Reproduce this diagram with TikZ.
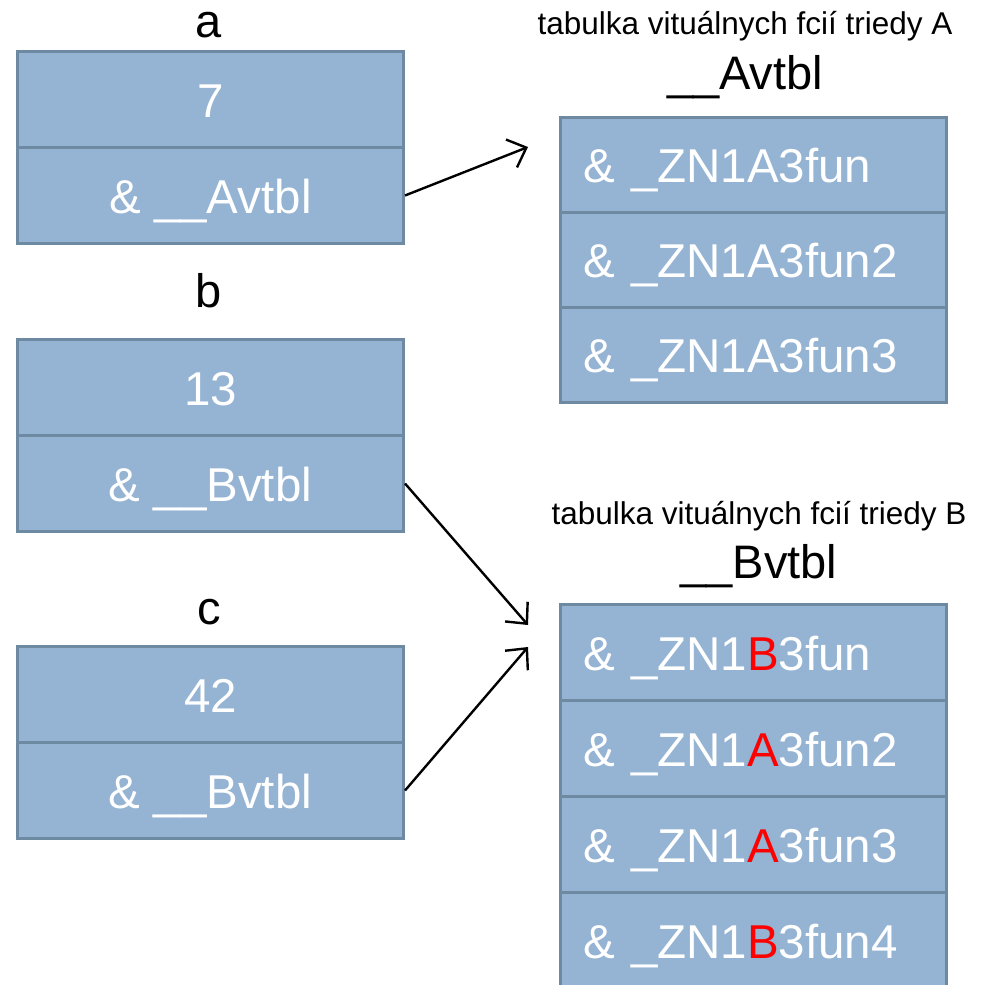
\documentclass[tikz,border=0pt]{standalone}
\usepackage{fontspec}
\setmainfont{Liberation Sans}
\usetikzlibrary{arrows.meta}
\definecolor{cellfill}{HTML}{95B3D3}
\definecolor{cellborder}{HTML}{6E8AA2}
\begin{document}
\begin{tikzpicture}[x=1pt,y=-1pt,
  cell/.style={draw=cellborder, fill=cellfill, line width=3pt, anchor=north west,
    minimum width=386pt, minimum height=96pt, inner sep=0pt,
    text=white, font=\fontsize{47.5}{52}\selectfont, text height=35pt, text depth=0pt},
  lcell/.style={cell, align=left, text width=340pt, inner xsep=23pt},
  lbl/.style={font=\fontsize{47}{52}\selectfont, anchor=base},
  captxt/.style={font=\fontsize{31.5}{34}\selectfont, anchor=base},
  hdr/.style={font=\fontsize{47}{52}\selectfont, anchor=base},
  ptr/.style={line width=2.4pt, -{Straight Barb[length=16pt,width=30pt,line width=2.4pt]}}]
\useasboundingbox (0,0) rectangle (982,985);
\begin{scope}
\clip (0,0) rectangle (982,985);
% left objects
\node[lbl] (la) at (209,37) {a};
\node[cell] (a1) at (16,50) {7};
\node[cell] (a2) at (16,146) {\& \_\_Avtbl};
\node[lbl] (lb) at (209,307) {b};
\node[cell] (b1) at (16,338) {13};
\node[cell] (b2) at (16,434) {\& \_\_Bvtbl};
\node[lbl] (lc) at (209,624) {c};
\node[cell] (c1) at (16,645) {42};
\node[cell] (c2) at (16,741) {\& \_\_Bvtbl};
% table A
\node[captxt] (capA) at (745,34) {tabulka vituálnych fcií triedy A};
\node[hdr] (hA) at (745,89) {\_\_Avtbl};
\node[lcell, minimum height=95pt] (ta1) at (559,116) {\& \_ZN1A3fun};
\node[lcell, minimum height=95pt] (ta2) at (559,211) {\& \_ZN1A3fun2};
\node[lcell, minimum height=95pt] (ta3) at (559,306) {\& \_ZN1A3fun3};
% table B
\node[captxt] (capB) at (759,524) {tabulka vituálnych fcií triedy B};
\node[hdr] (hB) at (759,578) {\_\_Bvtbl};
\node[lcell] (tb1) at (559,603) {\& \_ZN1\textcolor{red}{B}3fun};
\node[lcell] (tb2) at (559,699) {\& \_ZN1\textcolor{red}{A}3fun2};
\node[lcell] (tb3) at (559,795) {\& \_ZN1\textcolor{red}{A}3fun3};
\node[lcell] (tb4) at (559,891) {\& \_ZN1\textcolor{red}{B}3fun4};
\end{scope}
% arrow ends
\coordinate (pA) at (528,147);
\coordinate (pB1) at (528,625);
\coordinate (pB2) at (528,647);
\draw[ptr] (a2.east) -- (pA);
\draw[ptr] (b2.east) -- (pB1);
\draw[ptr] (c2.east) -- (pB2);
\end{tikzpicture}
\end{document}
